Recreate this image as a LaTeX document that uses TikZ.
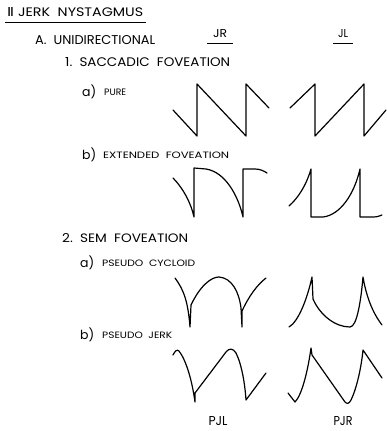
\documentclass[tikz,border=0pt]{standalone}
\usepackage{graphicx}
\usepackage{fontspec}
\setmainfont{Poppins}
\newfontfamily\numfont{DejaVu Sans}
\usetikzlibrary{positioning}
% caps text stretched to the size measured on the original sheet
\newcommand\fitto[3]{\resizebox{#1}{#2}{#3}}
\tikzset{
  heading/.style={anchor=south west, inner sep=0pt},
  paren/.style={font=\fontsize{12.5}{14}\selectfont, anchor=base west, inner sep=0pt},
  colhead/.style={anchor=south, inner sep=0pt},
  wave/.style={line width=1.2pt, line join=round, line cap=round},
  rule/.style={line width=0.9pt}
}

\begin{document}
\begin{tikzpicture}[x=1pt, y=-1pt]
\useasboundingbox (0,0) rectangle (387,431);
% headings
\node[heading] (jerk) at (7,17) {\fitto{136pt}{9pt}{{\numfont Ⅱ}\ JERK\ \ NYSTAGMUS}};
\draw[rule] ([xshift=-2pt,yshift=-5pt]jerk.south west) -- ([xshift=3pt,yshift=-5pt]jerk.south east);
\node[heading] (uni) at (35,45) {\fitto{120pt}{9pt}{A.\ \ UNIDIRECTIONAL}};
\node[colhead] (jr) at (220,38) {\fitto{14pt}{8pt}{JR}};
\node[colhead] (jl) at (343,38) {\fitto{10pt}{8pt}{JL}};
\draw[rule] ([xshift=-6pt,yshift=-5pt]jr.south west) -- ([xshift=6pt,yshift=-5pt]jr.south east);
\draw[rule] ([xshift=-5pt,yshift=-5pt]jl.south west) -- ([xshift=5pt,yshift=-5pt]jl.south east);
\node[heading] (sacc) at (65,67) {\fitto{165pt}{9pt}{1.\ \ SACCADIC\ \ FOVEATION}};
\node[paren] (pa) at (82,96) {a)};
\node[heading] (pure) at (104,96) {\fitto{22pt}{6.5pt}{PURE}};
\node[paren] (pb) at (82,159) {b)};
\node[heading] (ext) at (103,159) {\fitto{126pt}{6.5pt}{EXTENDED\ \ FOVEATION}};
\node[heading] (sem) at (62,243) {\fitto{126pt}{9pt}{2.\ \ SEM\ \ FOVEATION}};
\node[paren] (sa) at (80,267) {a)};
\node[heading] (cyc) at (102,267) {\fitto{93pt}{6.5pt}{PSEUDO\ \ CYCLOID}};
\node[paren] (sb) at (80,339) {b)};
\node[heading] (pjk) at (102,339) {\fitto{70pt}{6.5pt}{PSEUDO\ \ JERK}};
\node[colhead] (pjl) at (218,426) {\fitto{19pt}{9pt}{PJL}};
\node[colhead] (pjr) at (343,426) {\fitto{19pt}{9pt}{PJR}};

% pure
\draw[wave] (173,110) -- (197,136) -- (197,84) -- (246,136) -- (246,84) -- (269,108);
\draw[wave] (290,108) -- (315,84) -- (315,136) -- (364,84) -- (364,136) -- (386,110);
% extended foveation
\draw[wave] (173,178) .. controls (183,188) and (191,203) .. (194,217) -- (194,168) -- (206,169)
  .. controls (225,172) and (238,195) .. (243,217) -- (243,169) -- (255,169)
  .. controls (260,169) and (264,171) .. (267,173);
\draw[wave] (289,206) .. controls (298,198) and (306,186) .. (311,169) -- (311,217) -- (323,217)
  .. controls (340,215) and (354,195) .. (360,169) -- (360,217) -- (373,217)
  .. controls (377,217) and (380,216) .. (382,215);
% pseudo cycloid
\draw[wave] (175,278) .. controls (184,290) and (188,302) .. (190,327) -- (191,305)
  .. controls (200,286) and (211,277) .. (219,277) .. controls (232,278) and (239,292) .. (241,308)
  -- (242,327) -- (242,311) .. controls (249,296) and (257,285) .. (266,278);
\draw[wave] (289,327) .. controls (298,322) and (307,300) .. (312,277) -- (313,299)
  .. controls (320,315) and (335,327) .. (350,327) .. controls (357,327) and (361,300) .. (363,277)
  .. controls (366,295) and (372,312) .. (382,325);
% pseudo jerk
\draw[wave] (173,355) .. controls (175,351) and (177,349) .. (179,351)
  .. controls (186,360) and (192,380) .. (195,402) -- (195,393) -- (226,352)
  .. controls (229,348) and (233,348) .. (236,353) .. controls (242,365) and (245,385) .. (246,400)
  -- (266,373);
\draw[wave] (288,393) -- (295,402) .. controls (302,395) and (308,370) .. (311,348) -- (312,355)
  -- (345,402) .. controls (347,404) and (349,404) .. (351,400)
  .. controls (356,390) and (361,370) .. (363,350) -- (382,378);
\end{tikzpicture}
\end{document}
